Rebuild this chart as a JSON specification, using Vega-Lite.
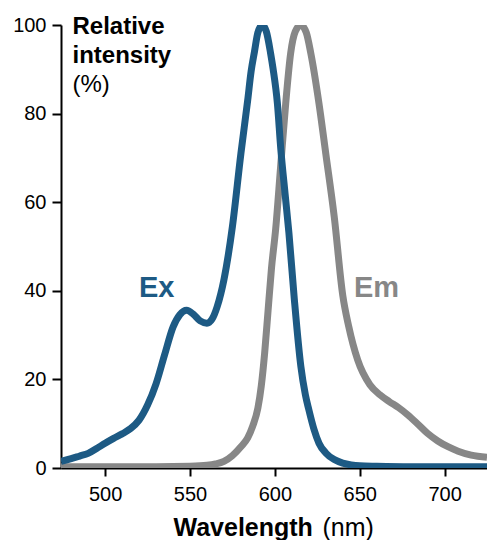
{
  "$schema": "https://vega.github.io/schema/vega-lite/v6.json",
  "width": 426,
  "height": 443,
  "autosize": {"type": "none"},
  "padding": {"left": 61, "top": 25, "right": 0, "bottom": 72},
  "config": {
    "view": {"stroke": null},
    "font": "Liberation Sans",
    "axis": {
      "grid": false,
      "domainColor": "#000000",
      "domainWidth": 2,
      "tickColor": "#000000",
      "tickWidth": 2,
      "labelColor": "#000000",
      "titleColor": "#000000",
      "labelFont": "Liberation Sans",
      "titleFont": "Liberation Sans"
    }
  },
  "datasets": {
    "ex": [
      {"wavelength": 474, "intensity": 1.5}, {"wavelength": 480, "intensity": 2.1}, {"wavelength": 485, "intensity": 2.7},
      {"wavelength": 490, "intensity": 3.3}, {"wavelength": 495, "intensity": 4.4}, {"wavelength": 500, "intensity": 5.6},
      {"wavelength": 505, "intensity": 6.7}, {"wavelength": 510, "intensity": 7.7}, {"wavelength": 515, "intensity": 8.9},
      {"wavelength": 520, "intensity": 10.8}, {"wavelength": 525, "intensity": 14.2}, {"wavelength": 530, "intensity": 19},
      {"wavelength": 535, "intensity": 25.5}, {"wavelength": 540, "intensity": 31.8}, {"wavelength": 544, "intensity": 34.6},
      {"wavelength": 548, "intensity": 35.6}, {"wavelength": 552, "intensity": 34.7}, {"wavelength": 556, "intensity": 33.2},
      {"wavelength": 560, "intensity": 32.7}, {"wavelength": 563, "intensity": 33.6}, {"wavelength": 566, "intensity": 36.4},
      {"wavelength": 570, "intensity": 42.5}, {"wavelength": 575, "intensity": 54.5}, {"wavelength": 580, "intensity": 71},
      {"wavelength": 584, "intensity": 83}, {"wavelength": 586, "intensity": 89.5}, {"wavelength": 588, "intensity": 94},
      {"wavelength": 590, "intensity": 98.3}, {"wavelength": 592.6, "intensity": 100}, {"wavelength": 595, "intensity": 98.5},
      {"wavelength": 597.5, "intensity": 93.6}, {"wavelength": 599, "intensity": 90}, {"wavelength": 601.5, "intensity": 82.3},
      {"wavelength": 603.5, "intensity": 72}, {"wavelength": 606, "intensity": 62}, {"wavelength": 608.3, "intensity": 53},
      {"wavelength": 611.5, "intensity": 38}, {"wavelength": 615.3, "intensity": 23}, {"wavelength": 618, "intensity": 16.5},
      {"wavelength": 620, "intensity": 13.2}, {"wavelength": 623, "intensity": 8.8}, {"wavelength": 626, "intensity": 5.6},
      {"wavelength": 630, "intensity": 3.4}, {"wavelength": 635, "intensity": 1.9}, {"wavelength": 640, "intensity": 1.1},
      {"wavelength": 645, "intensity": 0.7}, {"wavelength": 650, "intensity": 0.5}, {"wavelength": 660, "intensity": 0.4},
      {"wavelength": 680, "intensity": 0.3}, {"wavelength": 725, "intensity": 0.3}
    ],
    "em": [
      {"wavelength": 474, "intensity": 0.3}, {"wavelength": 500, "intensity": 0.3}, {"wavelength": 530, "intensity": 0.3},
      {"wavelength": 550, "intensity": 0.4}, {"wavelength": 560, "intensity": 0.6}, {"wavelength": 565, "intensity": 0.9},
      {"wavelength": 570, "intensity": 1.5}, {"wavelength": 575, "intensity": 2.8}, {"wavelength": 580, "intensity": 4.8},
      {"wavelength": 584, "intensity": 6.8}, {"wavelength": 587, "intensity": 9.5}, {"wavelength": 590, "intensity": 13.5},
      {"wavelength": 592, "intensity": 18.5}, {"wavelength": 594, "intensity": 26}, {"wavelength": 596, "intensity": 35.5},
      {"wavelength": 598, "intensity": 45}, {"wavelength": 600.5, "intensity": 54}, {"wavelength": 603.4, "intensity": 68},
      {"wavelength": 606.4, "intensity": 82.3}, {"wavelength": 609.3, "intensity": 93.6}, {"wavelength": 612, "intensity": 98.5},
      {"wavelength": 615.3, "intensity": 100}, {"wavelength": 618.5, "intensity": 98.3}, {"wavelength": 621.2, "intensity": 93.6},
      {"wavelength": 626, "intensity": 82.3}, {"wavelength": 630, "intensity": 71}, {"wavelength": 635, "intensity": 56.7},
      {"wavelength": 640, "intensity": 39}, {"wavelength": 643.5, "intensity": 32}, {"wavelength": 648.8, "intensity": 24.4},
      {"wavelength": 656, "intensity": 18.8}, {"wavelength": 662, "intensity": 16.5}, {"wavelength": 667.4, "intensity": 15},
      {"wavelength": 673, "intensity": 13.6}, {"wavelength": 678.3, "intensity": 12}, {"wavelength": 684, "intensity": 10},
      {"wavelength": 690, "intensity": 7.8}, {"wavelength": 696, "intensity": 6.1}, {"wavelength": 702, "intensity": 4.8},
      {"wavelength": 708, "intensity": 3.8}, {"wavelength": 715.7, "intensity": 2.9}, {"wavelength": 725, "intensity": 2.4}
    ],
    "labels": [
      {"wavelength": 530.4, "intensity": 38.7, "label": "Ex", "series": "Ex"},
      {"wavelength": 659.9, "intensity": 38.7, "label": "Em", "series": "Em"}
    ]
  },
  "layer": [
    {
      "data": {"name": "em"},
      "mark": {"type": "line", "interpolate": "monotone", "strokeWidth": 7, "color": "#878787", "clip": true},
      "encoding": {
        "x": {
          "field": "wavelength", "type": "quantitative",
          "scale": {"domain": [474, 725], "nice": false, "zero": false},
          "axis": {
            "orient": "bottom",
            "values": [500, 550, 600, 650, 700],
            "tickSize": 8,
            "labelFontSize": 20,
            "labelPadding": 8,
            "title": "Wavelength",
            "titleFontSize": 25,
            "titleFontWeight": "bold",
            "titleAlign": "left",
            "titleBaseline": "alphabetic",
            "titleX": 112,
            "titleY": 67
          }
        },
        "y": {
          "field": "intensity", "type": "quantitative",
          "scale": {"domain": [0, 100], "nice": false},
          "axis": {
            "orient": "left",
            "values": [0, 20, 40, 60, 80, 100],
            "tickSize": 9,
            "labelFontSize": 20,
            "labelPadding": 6,
            "title": ["Relative", "intensity"],
            "titleFontSize": 24,
            "titleFontWeight": "bold",
            "titleLineHeight": 29,
            "titleAngle": 0,
            "titleAlign": "left",
            "titleBaseline": "alphabetic",
            "titleX": 11,
            "titleY": 8
          }
        }
      }
    },
    {
      "data": {"name": "ex"},
      "mark": {"type": "line", "interpolate": "monotone", "strokeWidth": 7, "color": "#1d5a84", "clip": true},
      "encoding": {
        "x": {"field": "wavelength", "type": "quantitative", "axis": null},
        "y": {"field": "intensity", "type": "quantitative", "axis": null}
      }
    },
    {
      "data": {"name": "labels"},
      "mark": {"type": "text", "fontSize": 29, "fontWeight": "bold", "align": "center", "baseline": "alphabetic"},
      "encoding": {
        "x": {
          "field": "wavelength", "type": "quantitative",
          "axis": {
            "orient": "bottom",
            "title": "(nm)", "titleFontSize": 25, "titleFontWeight": "normal",
            "titleAlign": "left", "titleBaseline": "alphabetic", "titleX": 261, "titleY": 67,
            "domain": false, "ticks": false, "labels": false, "grid": false
          }
        },
        "y": {
          "field": "intensity", "type": "quantitative",
          "axis": {
            "orient": "left",
            "title": "(%)", "titleFontSize": 24, "titleFontWeight": "normal", "titleAngle": 0,
            "titleAlign": "left", "titleBaseline": "alphabetic", "titleX": 11, "titleY": 66,
            "domain": false, "ticks": false, "labels": false, "grid": false
          }
        },
        "text": {"field": "label", "type": "nominal"},
        "color": {
          "field": "series", "type": "nominal",
          "scale": {"domain": ["Ex", "Em"], "range": ["#1d5a84", "#878787"]},
          "legend": null
        }
      }
    }
  ],
  "resolve": {"axis": {"x": "independent", "y": "independent"}}
}
